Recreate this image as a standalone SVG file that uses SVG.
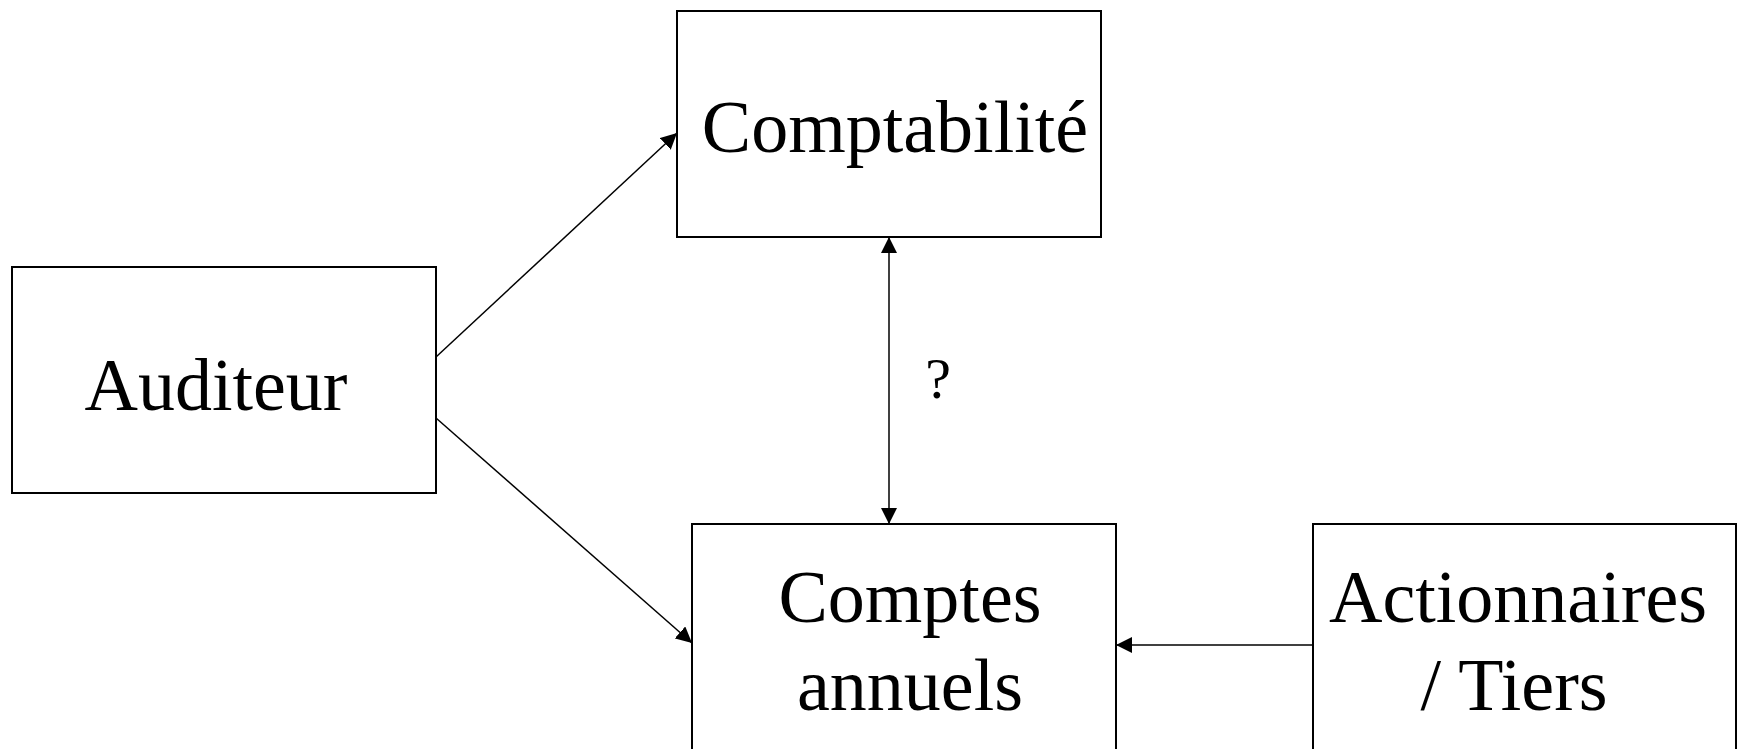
<svg xmlns="http://www.w3.org/2000/svg" width="1741" height="749" viewBox="0 0 1741 749">
<style>
.box{fill:#fff;stroke:#000;stroke-width:2}
.lbl{font-family:"Liberation Serif","Times New Roman",serif;font-size:74px;fill:#000;text-anchor:middle}
.q{font-family:"Liberation Serif","Times New Roman",serif;font-size:58px;fill:#000;text-anchor:middle}
.edge{stroke:#000;stroke-width:1.5;fill:none}
</style>
<defs>
<marker id="ah" viewBox="0 0 10 10" refX="10" refY="5" markerWidth="10" markerHeight="10" markerUnits="userSpaceOnUse" orient="auto-start-reverse">
<path d="M0,0 L10,5 L0,10 z" fill="#000"/>
</marker>
<marker id="ah2" viewBox="0 0 16 16" refX="16" refY="8" markerWidth="16" markerHeight="16" markerUnits="userSpaceOnUse" orient="auto-start-reverse">
<path d="M0,0 L16,8 L0,16 z" fill="#000"/>
</marker>
</defs>
<g id="n-comptabilite">
<rect class="box" x="677" y="11" width="424" height="226"/>
<text class="lbl" x="895" y="152">Comptabilité</text>
</g>
<g id="n-auditeur">
<rect class="box" x="12" y="267" width="424" height="226"/>
<text class="lbl" x="216" y="410">Auditeur</text>
</g>
<g id="n-comptes">
<rect class="box" x="692" y="524" width="424" height="226"/>
<text class="lbl" x="910" y="622">Comptes</text>
<text class="lbl" x="910" y="710">annuels</text>
</g>
<g id="n-actionnaires">
<rect class="box" x="1313" y="524" width="423" height="226"/>
<text class="lbl" x="1518" y="622">Actionnaires</text>
<text class="lbl" x="1514" y="710">/ Tiers</text>
</g>
<g id="connectors">
<line class="edge" x1="436" y1="357" x2="677" y2="133" marker-end="url(#ah2)"/>
<line class="edge" x1="436" y1="418" x2="692" y2="643" marker-end="url(#ah2)"/>
<line class="edge" x1="889" y1="237" x2="889" y2="524" marker-start="url(#ah2)" marker-end="url(#ah2)"/>
<line class="edge" x1="1313" y1="645" x2="1116" y2="645" marker-end="url(#ah2)"/>
<text class="q" x="938" y="398">?</text>
</g>
</svg>
